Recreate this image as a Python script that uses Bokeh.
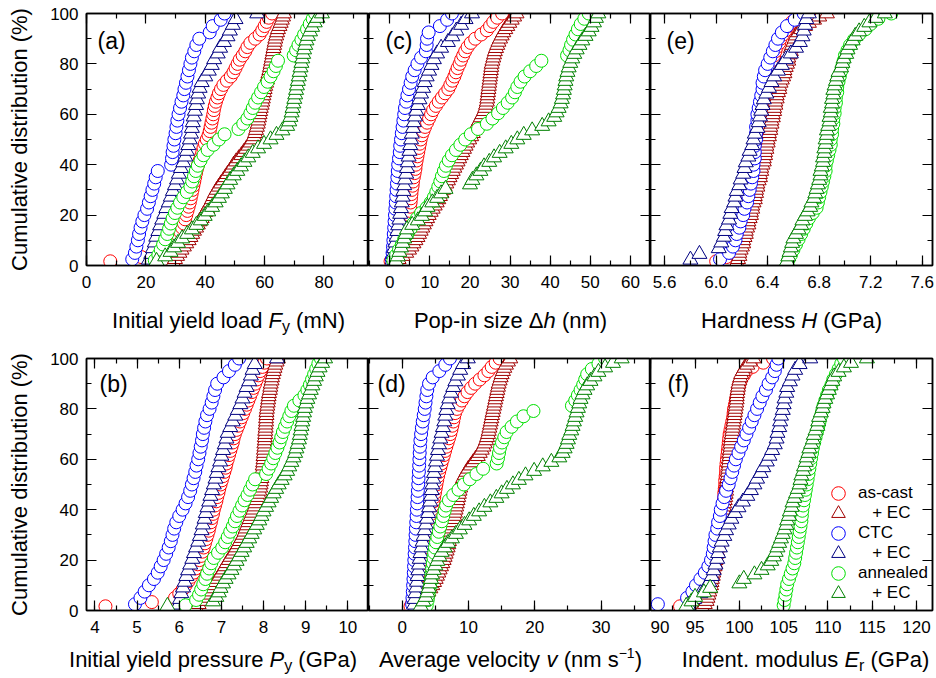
import math
from bokeh.plotting import figure
from bokeh.layouts import row, column
from bokeh.models import (Range1d, LinearAxis, SingleIntervalTicker, Label, Legend, LegendItem,
                          PrintfTickFormatter, CustomLabelingPolicy)
from bokeh.embed import file_html
from bokeh.resources import INLINE

FONT = "Liberation Sans"

SERIES_LABELS = ["as-cast", "\u00a0\u00a0\u00a0+ EC", "CTC", "\u00a0\u00a0\u00a0+ EC", "annealed", "\u00a0\u00a0\u00a0+ EC"]

# ---------------- (a) initial yield load Fy (mN) ----------------
FY_ASCAST = [8.0, 18.5, 27.5, 29.0, 29.8, 30.5, 31.0, 31.6, 32.2, 32.8, 33.2, 33.6, 34.0, 34.4, 34.8, 35.1, 35.4, 35.7, 36.0, 36.3,
             36.6, 36.9, 37.2, 37.6, 38.1, 38.6, 39.0, 39.4, 39.9, 40.5, 41.1, 41.5, 41.8, 42.1, 42.4, 42.7, 42.9, 43.2, 43.6, 44.1,
             44.6, 45.3, 46.1, 47.3, 48.6, 49.5, 50.2, 50.9, 51.6, 52.6, 53.5, 54.2, 55.2, 56.8, 58.3, 59.2, 60.0, 60.7, 61.4, 62.5]
FY_ASCAST_EC = [29.2, 29.8, 30.5, 31.3, 32.0, 32.8, 33.6, 34.4, 35.0, 35.6, 36.2, 36.9, 37.5, 38.1, 38.8, 39.4, 40.0, 40.6, 41.2, 41.8,
                42.3, 42.8, 43.3, 43.9, 44.6, 45.3, 46.1, 46.8, 47.5, 48.3, 49.0, 49.6, 50.4, 51.3, 52.2, 53.0, 53.8, 54.6, 55.3, 55.9,
                56.4, 56.8, 57.1, 57.4, 57.7, 57.9, 58.1, 58.3, 58.5, 58.7, 59.0, 59.2, 59.4, 59.6, 59.8, 60.0, 60.2, 60.5, 60.8, 61.0,
                61.3, 61.6, 61.8, 62.0, 62.2, 62.4, 62.6, 62.8, 63.0, 63.2, 63.4, 63.6, 63.9, 64.2, 64.5, 65.0, 65.4, 65.8, 66.2, 66.5]
FY_CTC = [15.4, 16.3, 16.8, 17.3, 17.7, 18.2, 18.8, 19.5, 20.4, 21.0, 21.6, 22.2, 22.8, 23.3, 24.0, 28.5, 28.8, 29.0, 29.3, 29.6,
          30.0, 30.3, 30.6, 31.0, 31.5, 32.0, 32.6, 33.0, 33.5, 34.0, 34.5, 35.0, 35.5, 36.3, 37.0, 38.0, 41.5, 42.5, 45.2, 46.5]
FY_CTC_EC = [21.0, 21.8, 22.4, 23.0, 23.5, 24.2, 24.8, 25.5, 26.2, 26.9, 27.7, 28.4, 29.1, 29.8, 30.5, 31.1, 31.8, 32.6, 33.3, 33.8,
             34.3, 34.8, 35.2, 35.5, 35.8, 36.1, 36.5, 36.9, 37.2, 37.6, 38.1, 38.8, 40.0, 41.2, 42.2, 43.0, 44.2, 45.0, 46.3, 47.5,
             48.3, 49.3, 50.2, 57.5]
FY_ANN = [23.0, 24.2, 25.0, 25.8, 26.5, 27.2, 27.8, 28.4, 29.0, 29.8, 30.6, 31.5, 32.6, 33.8, 35.0, 35.6, 36.2, 36.8, 37.5, 38.4,
          39.4, 40.8, 42.8, 44.6, 46.5, 51.2, 52.8, 54.2, 55.2, 56.0, 56.8, 57.8, 58.8, 59.8, 61.0, 62.0, 63.0, 63.8, 64.5, 69.8,
          70.6, 71.4, 72.4, 73.3, 74.3, 75.2, 76.2, 77.0]
FY_ANN_EC = [23.6, 26.5, 28.3, 29.5, 30.8, 32.2, 33.9, 35.5, 37.0, 38.5, 39.8, 41.0, 42.3, 43.5, 44.6, 45.6, 46.6, 47.5, 48.4, 49.6,
             50.8, 52.0, 53.2, 54.5, 56.0, 57.8, 59.8, 62.0, 64.0, 66.0, 67.6, 68.3, 68.7, 69.1, 69.4, 69.7, 70.0, 70.3, 70.6, 70.9,
             71.2, 71.5, 71.8, 72.1, 72.4, 72.7, 73.0, 73.3, 73.7, 74.1, 74.6, 75.3, 76.0, 76.9, 77.8, 79.3]

# ---------------- (c) pop-in size dh (nm) ----------------
DH_ASCAST = [0.2, 1.8, 2.8, 3.3, 3.7, 4.0, 4.2, 4.4, 4.6, 4.7, 4.8, 4.9, 5.0, 5.1, 5.2, 5.3, 5.4, 5.5, 5.7, 5.8,
             6.0, 6.2, 6.4, 6.5, 6.7, 6.9, 7.1, 7.3, 7.5, 7.7, 8.0, 8.4, 8.8, 9.3, 9.8, 10.3, 10.8, 11.5, 12.2, 13.0,
             13.8, 14.6, 15.1, 15.6, 16.1, 16.5, 16.9, 17.4, 17.8, 18.3, 18.8, 19.4, 20.2, 21.3, 22.8, 24.2, 25.0, 25.8, 26.8, 28.0]
DH_ASCAST_EC = [1.0, 2.2, 3.2, 4.1, 4.8, 5.4, 5.9, 6.4, 6.9, 7.3, 7.7, 8.1, 8.5, 8.9, 9.3, 9.7, 10.2, 10.7, 11.2, 11.7,
                12.1, 12.5, 12.9, 13.3, 13.7, 14.1, 14.5, 14.9, 15.3, 15.7, 16.1, 16.5, 16.9, 17.3, 17.7, 18.1, 18.5, 18.9, 19.3, 19.8,
                20.3, 20.7, 21.1, 21.5, 21.9, 22.3, 22.7, 23.1, 23.5, 23.8, 24.0, 24.2, 24.3, 24.4, 24.5, 24.6, 24.7, 24.8, 24.9, 25.0,
                25.1, 25.2, 25.3, 25.4, 25.6, 25.8, 26.0, 26.2, 26.5, 26.8, 27.1, 27.5, 27.9, 28.3, 28.8, 29.3, 29.8, 30.4, 31.0, 31.6]
DH_CTC = [0.5, 0.7, 0.8, 0.9, 1.0, 1.1, 1.2, 1.3, 1.4, 1.5, 1.6, 1.7, 1.8, 1.9, 2.0, 2.1, 2.3, 2.5, 2.6, 2.8,
          3.0, 3.2, 3.4, 3.6, 3.8, 4.1, 4.4, 4.8, 5.2, 5.6, 6.2, 6.9, 7.8, 9.0, 9.2, 9.3, 9.7, 12.5, 14.3, 15.5]
DH_CTC_EC = [0.7, 0.9, 1.1, 1.4, 1.7, 1.9, 2.1, 2.4, 2.6, 2.8, 3.0, 3.2, 3.4, 3.6, 3.8, 4.1, 4.3, 4.5, 4.7, 4.9,
             5.1, 5.3, 5.5, 5.8, 6.0, 6.3, 6.6, 7.0, 7.4, 7.8, 8.3, 8.7, 9.2, 9.8, 10.4, 11.0, 11.8, 12.8, 14.5, 15.6,
             16.6, 17.8, 18.9, 20.5]
DH_ANN = [0.9, 1.6, 2.3, 3.0, 3.6, 4.4, 5.2, 5.9, 6.8, 7.8, 9.2, 10.2, 11.0, 11.6, 12.1, 12.6, 13.0, 13.5, 14.0, 14.7,
          15.5, 16.5, 17.6, 18.8, 20.2, 22.0, 24.2, 25.6, 27.0, 28.2, 29.4, 30.5, 31.2, 31.8, 32.6, 33.6, 35.0, 36.5, 37.8, 44.2,
          44.8, 45.2, 45.7, 46.3, 46.9, 47.6, 48.5, 49.6]
DH_ANN_EC = [1.5, 2.0, 2.4, 2.8, 3.2, 3.6, 4.0, 4.3, 5.6, 7.0, 8.0, 8.8, 9.4, 10.6, 11.8, 12.8, 13.9, 20.0, 20.6, 21.6,
             22.6, 23.5, 24.8, 26.0, 27.4, 28.9, 30.3, 31.8, 33.4, 35.5, 38.0, 39.6, 41.0, 41.6, 42.1, 42.6, 42.9, 43.2, 43.4, 43.6,
             43.8, 44.0, 44.3, 44.6, 45.0, 45.5, 46.0, 46.6, 47.3, 48.0, 48.8, 49.6, 50.3, 50.9, 51.4, 52.0]

# ---------------- (e) hardness H (GPa) ----------------
H_ASCAST = [6.00, 6.08, 6.12, 6.14, 6.15, 6.16, 6.17, 6.18, 6.19, 6.20, 6.21, 6.22, 6.23, 6.24, 6.24, 6.25, 6.26, 6.27, 6.28, 6.28,
            6.29, 6.30, 6.30, 6.31, 6.31, 6.32, 6.32, 6.33, 6.33, 6.34, 6.34, 6.35, 6.35, 6.36, 6.36, 6.37, 6.37, 6.38, 6.38, 6.39,
            6.39, 6.40, 6.41, 6.41, 6.42, 6.43, 6.43, 6.44, 6.45, 6.45, 6.46, 6.47, 6.49, 6.50, 6.52, 6.54, 6.56, 6.59, 6.63, 6.72]
H_ASCAST_EC = [6.16, 6.17, 6.18, 6.18, 6.19, 6.20, 6.21, 6.21, 6.22, 6.23, 6.23, 6.24, 6.25, 6.25, 6.26, 6.27, 6.27, 6.28, 6.28, 6.29,
               6.30, 6.30, 6.31, 6.31, 6.32, 6.32, 6.33, 6.34, 6.34, 6.35, 6.35, 6.36, 6.37, 6.37, 6.38, 6.38, 6.39, 6.39, 6.40, 6.40,
               6.41, 6.41, 6.42, 6.42, 6.43, 6.43, 6.44, 6.44, 6.45, 6.45, 6.46, 6.46, 6.47, 6.47, 6.48, 6.49, 6.49, 6.50, 6.51, 6.52,
               6.53, 6.53, 6.54, 6.55, 6.56, 6.56, 6.57, 6.58, 6.58, 6.59, 6.60, 6.61, 6.62, 6.64, 6.66, 6.69, 6.72, 6.76, 6.80, 6.86]
H_CTC = [6.03, 6.10, 6.13, 6.15, 6.16, 6.18, 6.19, 6.21, 6.22, 6.24, 6.25, 6.26, 6.27, 6.28, 6.29, 6.29, 6.30, 6.30, 6.30, 6.31,
         6.31, 6.31, 6.32, 6.32, 6.33, 6.34, 6.35, 6.36, 6.36, 6.37, 6.38, 6.40, 6.42, 6.44, 6.46, 6.48, 6.51, 6.55, 6.61, 6.68]
H_CTC_EC = [5.80, 5.87, 6.02, 6.04, 6.06, 6.07, 6.08, 6.10, 6.11, 6.12, 6.14, 6.15, 6.16, 6.18, 6.19, 6.21, 6.22, 6.23, 6.25, 6.26,
            6.28, 6.29, 6.30, 6.32, 6.33, 6.34, 6.35, 6.36, 6.37, 6.39, 6.41, 6.43, 6.45, 6.48, 6.51, 6.54, 6.58, 6.62, 6.65, 6.67,
            6.68, 6.69, 6.70, 6.72]
H_ANN = [6.56, 6.58, 6.60, 6.62, 6.64, 6.66, 6.68, 6.70, 6.72, 6.75, 6.78, 6.79, 6.80, 6.81, 6.82, 6.83, 6.84, 6.85, 6.85, 6.86,
         6.87, 6.88, 6.89, 6.89, 6.90, 6.90, 6.91, 6.91, 6.92, 6.92, 6.93, 6.93, 6.94, 6.94, 6.95, 6.96, 6.97, 6.98, 6.99, 7.00,
         7.02, 7.04, 7.07, 7.11, 7.16, 7.20, 7.26, 7.36]
H_ANN_EC = [6.55, 6.56, 6.57, 6.58, 6.59, 6.60, 6.62, 6.64, 6.66, 6.67, 6.69, 6.71, 6.73, 6.74, 6.76, 6.77, 6.78, 6.79, 6.80, 6.81,
            6.81, 6.82, 6.83, 6.83, 6.84, 6.84, 6.85, 6.85, 6.86, 6.86, 6.87, 6.88, 6.88, 6.89, 6.89, 6.90, 6.90, 6.91, 6.91, 6.92,
            6.93, 6.94, 6.95, 6.97, 6.98, 6.99, 7.01, 7.02, 7.04, 7.06, 7.08, 7.11, 7.15, 7.19, 7.24, 7.31]

# ---------------- (b) initial yield pressure Py (GPa) ----------------
PY_ASCAST = [4.25, 5.35, 5.90, 6.00, 6.08, 6.15, 6.22, 6.28, 6.34, 6.39, 6.44, 6.48, 6.52, 6.55, 6.58, 6.61, 6.64, 6.67, 6.70, 6.72,
             6.75, 6.77, 6.80, 6.82, 6.85, 6.88, 6.90, 6.93, 6.95, 6.98, 7.01, 7.04, 7.07, 7.10, 7.12, 7.15, 7.18, 7.21, 7.24, 7.27,
             7.29, 7.32, 7.36, 7.40, 7.44, 7.48, 7.52, 7.56, 7.60, 7.64, 7.68, 7.72, 7.76, 7.80, 7.84, 7.88, 7.92, 7.97, 8.02, 8.08]
PY_ASCAST_EC = [6.40, 6.46, 6.52, 6.58, 6.63, 6.68, 6.74, 6.80, 6.86, 6.91, 6.96, 7.00, 7.05, 7.09, 7.13, 7.18, 7.22, 7.27, 7.32, 7.36,
                7.40, 7.44, 7.48, 7.52, 7.55, 7.58, 7.61, 7.64, 7.67, 7.70, 7.73, 7.76, 7.79, 7.81, 7.84, 7.86, 7.88, 7.90, 7.92, 7.93,
                7.94, 7.95, 7.96, 7.97, 7.98, 7.98, 7.99, 8.00, 8.00, 8.01, 8.01, 8.02, 8.02, 8.03, 8.03, 8.04, 8.04, 8.05, 8.05, 8.06,
                8.06, 8.07, 8.07, 8.08, 8.09, 8.10, 8.11, 8.12, 8.13, 8.15, 8.16, 8.17, 8.19, 8.20, 8.22, 8.24, 8.26, 8.28, 8.31, 8.34]
PY_CTC = [4.95, 5.08, 5.18, 5.28, 5.40, 5.49, 5.56, 5.63, 5.69, 5.75, 5.80, 5.84, 5.88, 5.93, 6.00, 6.08, 6.15, 6.21, 6.26, 6.30,
          6.34, 6.38, 6.41, 6.45, 6.48, 6.51, 6.54, 6.56, 6.59, 6.62, 6.66, 6.72, 6.77, 6.81, 6.85, 6.90, 7.05, 7.18, 7.32, 7.42]
PY_CTC_EC = [5.98, 6.02, 6.05, 6.09, 6.13, 6.17, 6.21, 6.26, 6.31, 6.35, 6.40, 6.45, 6.49, 6.53, 6.56, 6.60, 6.63, 6.67, 6.71, 6.74,
             6.78, 6.82, 6.86, 6.89, 6.93, 6.97, 7.00, 7.04, 7.08, 7.12, 7.15, 7.21, 7.27, 7.33, 7.39, 7.45, 7.50, 7.55, 7.60, 7.66,
             7.70, 7.74, 7.79, 8.32]
PY_ANN = [6.15, 6.40, 6.47, 6.52, 6.57, 6.62, 6.66, 6.71, 6.76, 6.82, 6.92, 7.02, 7.09, 7.15, 7.21, 7.27, 7.32, 7.37, 7.43, 7.49,
          7.55, 7.62, 7.68, 7.74, 7.80, 8.06, 8.12, 8.18, 8.23, 8.28, 8.33, 8.38, 8.42, 8.46, 8.51, 8.56, 8.61, 8.66, 8.72, 8.85,
          8.97, 9.04, 9.10, 9.15, 9.20, 9.25, 9.30, 9.36]
PY_ANN_EC = [5.72, 6.80, 6.88, 6.94, 6.98, 7.04, 7.10, 7.17, 7.24, 7.30, 7.36, 7.42, 7.48, 7.54, 7.60, 7.66, 7.72, 7.78, 7.84, 7.90,
             7.95, 8.00, 8.06, 8.12, 8.18, 8.24, 8.30, 8.36, 8.43, 8.50, 8.56, 8.61, 8.66, 8.71, 8.75, 8.78, 8.81, 8.84, 8.86, 8.88,
             8.90, 8.92, 8.94, 8.96, 8.98, 9.01, 9.04, 9.08, 9.12, 9.16, 9.20, 9.24, 9.28, 9.33, 9.39, 9.46]

# ---------------- (d) average velocity v (nm/s) ----------------
V_ASCAST = [1.26, 1.55, 1.75, 1.90, 2.05, 2.15, 2.25, 2.38, 2.50, 2.65, 2.80, 2.95, 3.15, 3.30, 3.45, 3.58, 3.70, 3.82, 3.93, 4.02,
            4.12, 4.23, 4.35, 4.47, 4.60, 4.72, 4.83, 4.94, 5.05, 5.16, 5.28, 5.42, 5.58, 5.75, 5.92, 6.10, 6.28, 6.46, 6.65, 6.85,
            7.05, 7.25, 7.42, 7.56, 7.70, 7.82, 7.98, 8.25, 8.60, 9.00, 9.40, 9.85, 10.40, 11.00, 11.70, 12.40, 13.00, 13.50, 14.10, 14.70]
V_ASCAST_EC = [2.25, 2.65, 3.05, 3.40, 3.70, 3.95, 4.25, 4.55, 4.80, 5.05, 5.25, 5.45, 5.65, 5.85, 6.05, 6.25, 6.40, 6.55, 6.70, 6.85,
               6.95, 7.05, 7.15, 7.25, 7.35, 7.45, 7.55, 7.65, 7.75, 7.85, 7.95, 8.05, 8.15, 8.25, 8.35, 8.45, 8.55, 8.65, 8.75, 8.85,
               9.00, 9.20, 9.45, 9.70, 10.00, 10.35, 10.70, 11.05, 11.40, 11.70, 12.00, 12.25, 12.45, 12.65, 12.80, 12.95, 13.05, 13.15, 13.25, 13.35,
               13.45, 13.55, 13.65, 13.75, 13.85, 13.95, 14.05, 14.15, 14.25, 14.35, 14.45, 14.55, 14.70, 14.85, 15.00, 15.20, 15.40, 15.65, 15.95, 16.30]
V_CTC = [1.50, 1.55, 1.60, 1.65, 1.70, 1.75, 1.79, 1.83, 1.88, 1.93, 1.98, 2.02, 2.07, 2.12, 2.17, 2.22, 2.27, 2.32, 2.37, 2.42,
         2.47, 2.52, 2.56, 2.60, 2.64, 2.69, 2.75, 2.85, 2.97, 3.10, 3.25, 3.40, 3.52, 3.65, 3.78, 4.05, 4.60, 5.60, 6.50, 7.20]
V_CTC_EC = [1.78, 1.88, 1.99, 2.12, 2.23, 2.33, 2.43, 2.53, 2.64, 2.76, 2.92, 3.08, 3.24, 3.41, 3.58, 3.75, 3.91, 4.06, 4.22, 4.34,
            4.45, 4.56, 4.68, 4.80, 4.95, 5.10, 5.25, 5.40, 5.56, 5.74, 5.94, 6.15, 6.35, 6.50, 6.66, 6.85, 7.10, 7.38, 7.70, 8.02,
            8.40, 8.75, 9.20, 9.90]
V_ANN = [3.70, 3.85, 3.98, 4.10, 4.22, 4.32, 4.42, 4.52, 4.62, 4.72, 4.82, 4.95, 5.10, 5.30, 5.52, 5.75, 5.98, 6.20, 6.40, 6.62,
         7.05, 7.70, 8.50, 9.30, 10.20, 11.20, 12.20, 14.25, 14.45, 14.60, 14.75, 15.05, 15.40, 15.75, 16.50, 17.30, 18.30, 19.80, 25.60, 26.10,
         26.50, 26.90, 27.30, 27.60, 27.90, 28.60, 29.60, 30.60]
V_ANN_EC = [2.80, 3.20, 3.55, 3.80, 4.00, 4.20, 4.35, 4.50, 4.75, 5.00, 5.30, 5.60, 5.95, 6.40, 6.90, 7.50, 8.10, 8.70, 9.40, 10.10,
            10.80, 11.60, 12.40, 13.30, 14.20, 15.00, 15.80, 16.70, 17.60, 18.60, 19.90, 21.20, 22.50, 23.70, 24.20, 24.50, 24.80, 25.00, 25.20, 25.50,
            25.70, 25.90, 26.10, 26.30, 26.50, 26.70, 26.90, 27.20, 27.50, 27.90, 28.40, 29.00, 29.60, 30.60, 31.80, 33.10]

# ---------------- (f) indentation modulus Er (GPa) ----------------
ER_ASCAST = [93.3, 95.2, 95.6, 95.9, 96.1, 96.3, 96.5, 96.7, 96.9, 97.0, 97.1, 97.2, 97.3, 97.4, 97.5, 97.6, 97.7, 97.8, 97.85, 97.9,
             98.0, 98.05, 98.1, 98.15, 98.2, 98.25, 98.3, 98.3, 98.35, 98.4, 98.4, 98.45, 98.5, 98.5, 98.55, 98.6, 98.65, 98.7, 98.75, 98.8,
             98.85, 98.9, 99.0, 99.1, 99.2, 99.3, 99.35, 99.4, 99.5, 99.6, 99.7, 99.8, 99.9, 100.0, 100.2, 100.5, 100.8, 101.5, 102.7, 103.8]
ER_ASCAST_EC = [95.8, 96.1, 96.3, 96.4, 96.5, 96.6, 96.7, 96.8, 96.85, 96.9, 97.0, 97.05, 97.1, 97.2, 97.25, 97.3, 97.35, 97.4, 97.45, 97.5,
                97.6, 97.65, 97.7, 97.8, 97.85, 97.9, 97.95, 98.0, 98.05, 98.1, 98.15, 98.2, 98.25, 98.3, 98.35, 98.4, 98.45, 98.5, 98.5, 98.55,
                98.6, 98.65, 98.7, 98.7, 98.75, 98.8, 98.8, 98.85, 98.9, 98.9, 98.95, 99.0, 99.0, 99.05, 99.1, 99.15, 99.2, 99.25, 99.3, 99.35,
                99.4, 99.45, 99.5, 99.55, 99.6, 99.65, 99.7, 99.7, 99.75, 99.8, 99.85, 99.9, 100.0, 100.1, 100.2, 100.4, 100.6, 100.9, 101.2, 101.6]
ER_CTC = [90.8, 94.1, 94.7, 95.1, 95.6, 96.1, 96.5, 96.8, 97.0, 97.1, 97.2, 97.3, 97.5, 97.6, 97.8, 97.9, 98.1, 98.3, 98.5, 98.8,
          99.0, 99.2, 99.4, 99.6, 99.9, 100.2, 100.5, 100.8, 101.1, 101.4, 101.7, 102.0, 102.3, 102.6, 103.0, 103.3, 103.7, 104.0, 104.2, 104.4]
ER_CTC_EC = [94.2, 94.9, 95.6, 96.2, 96.6, 96.9, 97.1, 97.3, 97.5, 97.6, 97.8, 98.0, 98.3, 98.5, 98.8, 99.1, 99.5, 99.9, 100.4, 100.9,
             101.3, 101.7, 102.0, 102.4, 102.7, 103.1, 103.4, 103.7, 104.0, 104.2, 104.3, 104.5, 104.6, 104.7, 104.9, 105.0, 105.1, 105.3, 105.4, 105.7,
             106.0, 106.3, 106.8, 108.0]
ER_ANN = [105.0, 105.1, 105.2, 105.3, 105.4, 105.6, 105.8, 106.0, 106.2, 106.3, 106.4, 106.5, 106.6, 106.7, 106.8, 106.9, 107.0, 107.05, 107.1, 107.2,
          107.3, 107.4, 107.5, 107.6, 107.7, 107.8, 107.9, 108.0, 108.1, 108.2, 108.3, 108.45, 108.6, 108.75, 108.9, 109.05, 109.2, 109.35, 109.5, 109.7,
          109.9, 110.1, 110.4, 110.6, 110.9, 111.2, 111.5, 111.8]
ER_ANN_EC = [94.0, 94.6, 95.0, 96.0, 96.7, 100.0, 100.5, 101.7, 102.5, 103.2, 103.6, 103.9, 104.1, 104.3, 104.5, 104.7, 104.9, 105.1, 105.3, 105.4,
             105.6, 105.7, 105.9, 106.0, 106.2, 106.4, 106.6, 106.8, 106.9, 107.0, 107.2, 107.3, 107.5, 107.6, 107.8, 107.9, 108.1, 108.3, 108.4, 108.6,
             108.8, 108.9, 109.0, 109.2, 109.4, 109.5, 109.7, 109.9, 110.1, 110.3, 110.5, 110.7, 111.2, 111.8, 112.6, 114.4]

# marker, colour, size for the six series (order of drawing)
STYLES = [("circle", "#ff0000", 13), ("triangle", "#a00000", 15),
          ("circle", "#0000ff", 13), ("triangle", "#000080", 15),
          ("circle", "#00e000", 13), ("triangle", "#008000", 15)]

# Arial / Liberation Sans advance widths (1/1000 em) for label layout
CW = {' ': 278, '(': 333, ')': 333, '-': 333, '.': 278, 'A': 667, 'E': 667, 'F': 611, 'G': 778, 'H': 722,
      'I': 278, 'N': 722, 'P': 667, 'a': 556, 'c': 500, 'd': 556, 'e': 556, 'g': 556, 'h': 556, 'i': 222,
      'l': 222, 'm': 833, 'n': 556, 'o': 556, 'p': 556, 'r': 333, 's': 500, 't': 278, 'u': 556, 'v': 500,
      'y': 500, 'z': 500, '\u0394': 668, '\u2212': 584, '1': 556}


def tw(s, size):
    return sum(CW.get(c, 556) for c in s) * size / 1000.0


def cum(vals):
    n = len(vals)
    return [100.0 * (i + 1) / n for i in range(n)]


def style_axis(ax, interval, labels, standoff):
    ax.ticker = SingleIntervalTicker(interval=interval, num_minor_ticks=2)
    ax.major_tick_in = 10
    ax.major_tick_out = 0
    ax.minor_tick_in = 5
    ax.minor_tick_out = 0
    ax.axis_line_width = 1.5
    ax.major_tick_line_width = 1.2
    ax.minor_tick_line_width = 1.2
    ax.axis_line_color = "black"
    ax.major_tick_line_color = "black"
    ax.minor_tick_line_color = "black"
    if labels:
        ax.major_label_text_font = FONT
        ax.major_label_text_font_size = "17px"
        ax.major_label_text_color = "black"
        ax.major_label_standoff = standoff
    else:
        ax.major_label_text_font_size = "0px"
        ax.major_label_standoff = 0
        ax.major_label_policy = CustomLabelingPolicy(code="return new Set()")


M = 22   # main label font size
S = 16   # subscript size

PANELS = [
    dict(r=0, c=0, data=[FY_ASCAST, FY_ASCAST_EC, FY_CTC, FY_CTC_EC, FY_ANN, FY_ANN_EC], xr=(-0.01, 95.0), iv=20, fmt=None,
         letter="(a)", ldx=11, xlabel=[("Initial yield load ", "normal", M, 0), ("F", "italic", M, 0), ("y", "normal", S, -4), (" (mN)", "normal", M, 0)], xc=228),
    dict(r=0, c=1, data=[DH_ASCAST, DH_ASCAST_EC, DH_CTC, DH_CTC_EC, DH_ANN, DH_ANN_EC], xr=(-5.3, 65.0), iv=10, fmt=None,
         letter="(c)", ldx=17, xlabel=[("Pop-in size ", "normal", M, 0), ("\u0394", "normal", M, 0), ("h", "italic", M, 0), (" (nm)", "normal", M, 0)], xc=510),
    dict(r=0, c=2, data=[H_ASCAST, H_ASCAST_EC, H_CTC, H_CTC_EC, H_ANN, H_ANN_EC], xr=(5.49, 7.68), iv=0.4, fmt="%.1f",
         letter="(e)", ldx=16, xlabel=[("Hardness ", "normal", M, 0), ("H", "italic", M, 0), (" (GPa)", "normal", M, 0)], xc=791),
    dict(r=1, c=0, data=[PY_ASCAST, PY_ASCAST_EC, PY_CTC, PY_CTC_EC, PY_ANN, PY_ANN_EC], xr=(3.80, 10.49), iv=1, fmt=None,
         letter="(b)", ldx=13, xlabel=[("Initial yield pressure ", "normal", M, 0), ("P", "italic", M, 0), ("y", "normal", S, -4), (" (GPa)", "normal", M, 0)], xc=212.5),
    dict(r=1, c=1, data=[V_ASCAST, V_ASCAST_EC, V_CTC, V_CTC_EC, V_ANN, V_ANN_EC], xr=(-5.08, 37.45), iv=10, fmt=None,
         letter="(d)", ldx=9, xlabel=[("Average velocity ", "normal", M, 0), ("v", "italic", M, 0), (" (nm s", "normal", M, 0), ("\u22121", "normal", 14, 10), (")", "normal", M, 0)], xc=510),
    dict(r=1, c=2, data=[ER_ASCAST, ER_ASCAST_EC, ER_CTC, ER_CTC_EC, ER_ANN, ER_ANN_EC], xr=(89.97, 121.8), iv=5, fmt=None,
         letter="(f)", ldx=17, xlabel=[("Indent. modulus ", "normal", M, 0), ("E", "italic", M, 0), ("r", "normal", S, -4), (" (GPa)", "normal", M, 0)], xc=805),
]

FW, FH = 282, 252
LEFT_B = [86, 0, 0]
RIGHT_B = [0, 0, 3]
TOP_B = [13, 13]
BOT_B = [35, 35]
TOTAL_W = 86 + 3 * FW + 3
STRIP_H = [45, 33]          # text strips under each row of panels
STRIP_BASE = [17, 11]       # baseline of the axis titles, px above strip bottom
LETTER_Y = [225, 227]

figs = [[None] * 3, [None] * 3]
for P in PANELS:
    r, c = P["r"], P["c"]
    p = figure(frame_width=FW, frame_height=FH,
               min_border_left=LEFT_B[c], min_border_right=RIGHT_B[c],
               min_border_top=TOP_B[r], min_border_bottom=BOT_B[r],
               x_range=Range1d(*P["xr"]), y_range=Range1d(0, 100),
               output_backend="svg", toolbar_location=None, tools="")
    p.xgrid.visible = False
    p.ygrid.visible = False
    p.outline_line_color = "black"
    p.outline_line_width = 1.5
    p.background_fill_color = "white"
    p.border_fill_color = "white"

    style_axis(p.xaxis[0], P["iv"], True, 10)
    if P["fmt"]:
        p.xaxis[0].formatter = PrintfTickFormatter(format=P["fmt"])
    style_axis(p.yaxis[0], 20, c == 0, 8)
    if c == 0:
        p.yaxis[0].axis_label = "Cumulative distribution (%)"
        p.yaxis[0].axis_label_text_font = FONT
        p.yaxis[0].axis_label_text_font_size = "22px"
        p.yaxis[0].axis_label_text_font_style = "normal"
        p.yaxis[0].axis_label_text_color = "black"
        p.yaxis[0].axis_label_standoff = 15
    ra = LinearAxis()
    style_axis(ra, 20, False, 0)
    p.add_layout(ra, "right")
    ta = LinearAxis()
    style_axis(ta, P["iv"], False, 0)
    p.add_layout(ta, "above")

    rends = []
    for vals, (mk, col, sz) in zip(P["data"], STYLES):
        rr = p.scatter(vals, cum(vals), marker=mk, size=sz, line_color=col, fill_color="white", line_width=1.0)
        rends.append(rr)

    # panel letter
    p.add_layout(Label(x=P["ldx"], y=LETTER_Y[r], x_units="screen", y_units="screen", text=P["letter"],
                       text_font=FONT, text_font_size="23px", text_baseline="middle", text_align="left",
                       text_color="black"))

    if r == 1 and c == 2:
        for i, (lab, rr) in enumerate(zip(SERIES_LABELS, rends)):
            leg = Legend(items=[LegendItem(label=lab, renderers=[rr])], location=(171, 100 - 20 * i),
                         orientation="vertical", glyph_width=34, glyph_height=34, spacing=0, padding=0, margin=0,
                         label_standoff=3, label_text_font=FONT, label_text_font_size="17px",
                         label_text_color="black", background_fill_alpha=0, border_line_alpha=0)
            p.add_layout(leg)

    figs[r][c] = p


def title_strip(r):
    s = figure(width=TOTAL_W, height=STRIP_H[r], min_border=0, min_border_left=0, min_border_right=0,
               min_border_top=0, min_border_bottom=0, x_range=Range1d(0, TOTAL_W), y_range=Range1d(0, STRIP_H[r]),
               x_axis_location=None, y_axis_location=None, output_backend="svg", toolbar_location=None, tools="")
    s.xgrid.visible = False
    s.ygrid.visible = False
    s.outline_line_color = None
    s.background_fill_color = "white"
    s.border_fill_color = "white"
    for P in PANELS:
        if P["r"] != r:
            continue
        widths = [tw(t, sz) for (t, st, sz, dy) in P["xlabel"]]
        x = P["xc"] - sum(widths) / 2.0
        for (t, st, sz, dy), w in zip(P["xlabel"], widths):
            lead = len(t) - len(t.lstrip(" "))
            # text is anchored on its middle; middle sits 0.35 em above the baseline
            s.add_layout(Label(x=x + tw(" " * lead, sz), y=STRIP_BASE[r] + dy + 0.35 * sz, x_units="screen", y_units="screen",
                               text=t.strip(" "), text_font=FONT, text_font_size="%dpx" % sz, text_font_style=st,
                               text_align="left", text_baseline="middle", text_color="black"))
            x += w
    return s


layout = column(row(*figs[0]), title_strip(0), row(*figs[1]), title_strip(1))

open("out.html", "w").write(file_html(layout, INLINE))
